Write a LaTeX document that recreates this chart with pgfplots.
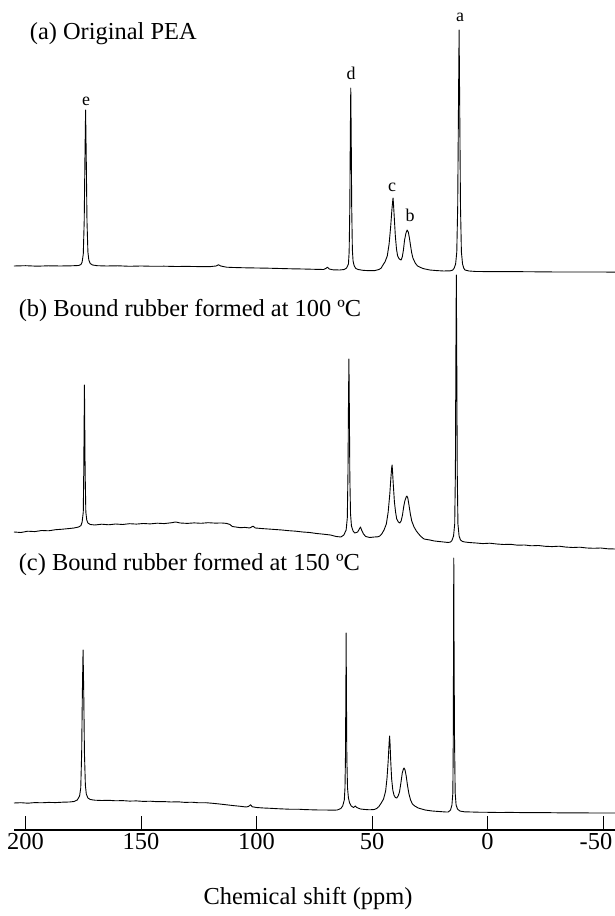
\documentclass[border=0pt]{standalone}
\usepackage{fontspec}
\setmainfont{Liberation Serif}
\usepackage{pgfplots}
\usepackage{pgfplotstable}
\pgfplotsset{compat=1.18}

% 13C NMR spectra: chemical shift (ppm) and intensity above each trace's own left baseline
\pgfplotstableread{
p i
205 0
200 0.3
195 -0.2
190 0.2
185 0
180 0.2
177 0.5
176 1.5
175.5 4
175 12
174.6 45
174.3 105
174 156
173.7 105
173.4 45
173 14
172.6 6
172 2.5
171 1
169 0.3
165 0
160 0.2
155 -0.3
150 0
145 -0.3
140 -0.2
135 -0.5
130 -0.4
125 -0.6
120 -0.6
117.5 0
116.5 1.2
115.5 0
113 -1.2
110 -1.5
105 -1.8
100 -2
95 -2.2
90 -2.5
85 -2.8
80 -3
75 -3.3
71 -3.5
70 -2.5
69.3 -1.2
68.5 -3
67 -3.8
64 -4
62 -3.5
61 -2
60.2 2
59.9 14
59.6 60
59.4 130
59.2 178
59.0 130
58.8 60
58.5 16
58.2 5
57.7 0
57 -2.5
56 -3.5
54 -4.3
52 -4.6
49 -4.7
47 -3.5
46 -2
45.4 0.5
44.4 4
43.4 10
42.6 22
41.9 40
41.4 56
41.0 66
40.9 68
40.7 62
40.4 50
39.9 30
39.4 17
38.9 10
38.2 7
37.4 6
36.9 9
36.4 16
35.9 26
35.3 33
34.8 36
34.3 34
33.8 28
33.3 20
32.8 13
32.3 8
31.3 3
30.3 0
28 -2.5
25 -4
22 -4.6
19 -5
16 -4.8
15 -4
14.4 -2
13.8 2
13.3 14
12.9 60
12.6 150
12.3 236
12.0 150
11.7 60
11.3 14
10.8 2
10.3 -2
9.8 -4
8 -5
5 -5.5
0 -5.6
-10 -5.6
-20 -5.8
-30 -6
-40 -6
-50 -6
-55.2 -6.2
}\specA

\pgfplotstableread{
p i
205 0
202 -0.5
199 0.8
196 0.4
193 1.5
190 1.2
187 2.3
184 2.8
181 3.5
179 4
177 5
176 6.5
175.5 10
175 20
174.8 60
174.5 147
174.2 60
173.9 20
173.5 12
173 9
172 7.5
170 7
167 7.8
164 7.2
161 8
158 7.5
155 8.3
152 7.9
149 8.5
146 8.1
143 8.8
140 8.4
137 9.2
135 10
133 9
130 8.6
127 9.1
124 8.7
121 9.3
118 8.9
115 9
113 8.6
111.5 7.5
110.5 5.5
109 5
107 4.3
105 4.6
103 4
101.5 5.8
100.5 4
98 3.5
95 3
92 2.5
89 2
86 1.3
83 0.8
80 0
77 -0.5
74 -1.5
71 -2.2
68 -3
65.5 -4.5
63.5 -5
62.2 -3
61.2 2
60.7 14
60.4 60
60.2 125
60.0 173
59.8 120
59.6 55
59.3 18
58.9 6
58.2 1
57.5 -1
56.2 0
55.5 3
55.0 5
54.5 2
53.7 -2
52.7 -4.5
51 -5.5
49 -5
47.5 -4.8
46.6 -4
45.8 -2
44.8 2
43.8 8
43.0 20
42.3 38
41.8 55
41.5 64
41.3 67
41.1 60
40.8 48
40.3 30
39.8 20
39.3 13
38.6 10
38.0 9
37.4 11
36.8 17
36.3 25
35.8 31
35.2 35
34.9 36
34.5 34
34.0 27
33.4 18
32.8 11
31.8 5
30.8 1
29.8 -2
28.8 -4.5
27.5 -7
25 -8
23 -9
21 -9.5
19 -10
17 -10.5
16 -10
15.4 -8.5
14.7 -4
14.2 8
13.9 60
13.7 170
13.5 257
13.3 170
13.1 60
12.8 8
12.3 -4
11.7 -8
10.8 -9.5
9.8 -10
8 -10.5
5 -11
2 -11.6
-1 -11.2
-4 -12
-7 -12.5
-10 -12.3
-13 -13.2
-16 -13
-19 -13.8
-22 -13.5
-25 -14.3
-28 -14.6
-31 -14.2
-34 -15.1
-37 -15.5
-40 -15.2
-43 -16
-46 -16.3
-49 -16
-52 -16.8
-55.2 -17
}\specB

\pgfplotstableread{
p i
205 0
202 0.3
199 -0.2
196 0.4
193 0.2
190 0.6
187 0.4
184 0.8
181 1
179 1.5
177.6 3
176.6 7
176.1 15
175.7 50
175.4 110
175.1 153
174.8 110
174.5 50
174.1 18
173.7 9
173 5
172 3.5
170 2.8
167 2.5
164 2.7
161 2.2
158 2.4
155 1.9
152 2.1
149 1.6
146 1.8
143 1.3
140 1.4
137 1
134 1.2
131 0.6
128 0.8
125 0.2
122 0.3
119 -0.3
116 -1
113 -1.8
110 -2.6
107 -3.3
104.5 -4
103.5 -3.5
102.6 -1.8
101.8 -3.8
100 -4.5
97 -5
94 -5.3
91 -5.7
88 -6
85 -6.3
82 -6.2
79 -6.6
76 -6.8
73 -7
70 -7
67 -7.2
65 -7
63.5 -5.5
62.7 -3
62.0 3
61.7 15
61.5 45
61.3 120
61.2 170
61.1 120
60.9 45
60.6 15
60.2 5
59.7 0
59 -3
58 -4.5
57.2 -3
56.6 -4.5
55 -6
53 -6.5
51 -6.8
49 -6.5
48 -5.5
47 -3.5
46 0
45 4
44.1 12
43.5 25
43.0 42
42.6 60
42.4 67
42.2 60
41.9 42
41.5 24
41.0 13
40.5 8
39.9 5.5
39.3 5
38.7 7
38.1 11
37.5 20
36.9 30
36.4 34
36.1 35
35.7 33
35.2 27
34.6 17
34.0 9
33.3 3
32.5 -1
31.5 -3
30 -5
27 -7
24 -8
21 -8.5
18 -9
17 -9
16 -7
15.4 -2
15.0 10
14.8 70
14.7 170
14.6 245
14.5 170
14.3 70
14.0 10
13.6 -2
13 -6
12 -8
10 -8.8
7 -9
4 -9.2
0 -9.3
-5 -9.5
-10 -9.4
-15 -9.6
-20 -9.7
-25 -9.6
-30 -9.8
-35 -9.9
-40 -9.8
-45 -10
-50 -10
-55.2 -10
}\specC

\begin{document}
\begin{tikzpicture}[x=1bp,y=1bp,
  trace/.style={black, line width=0.9bp, line join=round, no markers},
  pklabel/.style={font=\fontsize{18}{21}\selectfont, anchor=base, inner sep=0pt},
  spectitle/.style={font=\fontsize{24.5}{28}\selectfont, anchor=base west, inner sep=0pt}]
\useasboundingbox (0,0) rectangle (615,916);
\begin{axis}[
  at={(14bp,86bp)}, anchor=south west,
  scale only axis, width=601bp, height=830bp,
  xmin=-55.2, xmax=205, ymin=-6, ymax=824,
  x dir=reverse,
  axis x line*=bottom, axis y line=none,
  ytick=\empty,
  xtick={200,150,100,50,0,-50},
  xticklabels={200,150,100,50,0,{\hspace*{-14bp}-50}},
  tick align=inside, major tick length=14bp,
  tick style={line width=0.8bp, black},
  axis line style={line width=1.2bp, black},
  xticklabel style={font=\fontsize{24.5}{28}\selectfont},
  clip=false,
]
% traces stacked with their left baselines at 558, 292 and 21
\addplot[trace] table[x=p, y expr=\thisrow{i}+558] {\specA};
\addplot[trace] table[x=p, y expr=\thisrow{i}+292] {\specB};
\addplot[trace] table[x=p, y expr=\thisrow{i}+21] {\specC};

\node[spectitle] at (axis cs:198.2,784.7) {(a) Original PEA};
\node[spectitle] at (axis cs:203,507.3) {(b) Bound rubber formed at 100 ºC};
\node[spectitle] at (axis cs:203,253) {(c) Bound rubber formed at 150 ºC};

% peak assignments of PEA
\node[pklabel] at (axis cs:11.9,802.3) {a};
\node[pklabel] at (axis cs:33.5,602) {b};
\node[pklabel] at (axis cs:41.3,632.3) {c};
\node[pklabel] at (axis cs:59.1,744) {d};
\node[pklabel] at (axis cs:173.8,718.3) {e};

\node[font=\fontsize{24.5}{28}\selectfont, anchor=base] at (axis cs:77.7,-81) {Chemical shift (ppm)};
\end{axis}
\end{tikzpicture}
\end{document}
